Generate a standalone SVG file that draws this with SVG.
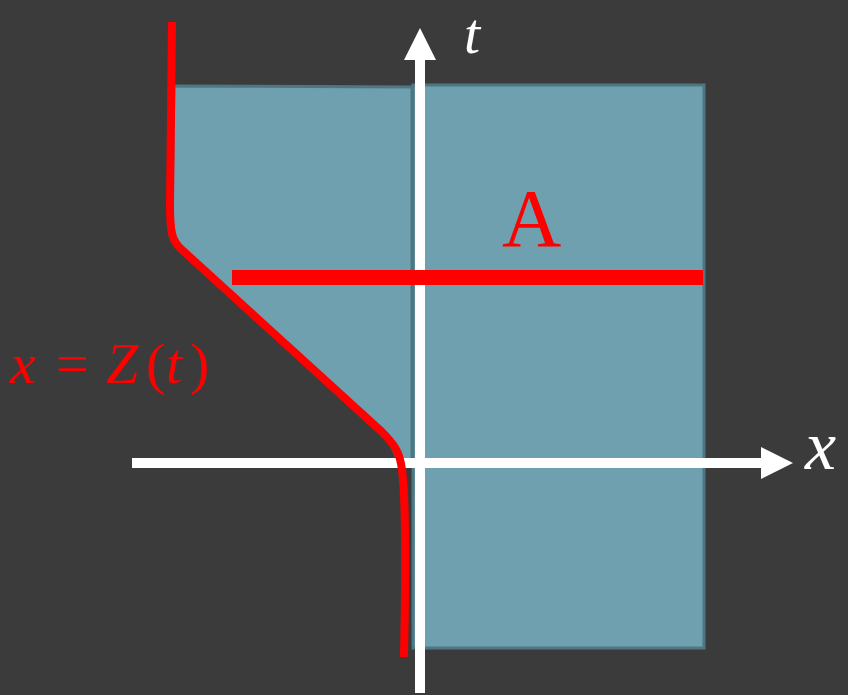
<svg xmlns="http://www.w3.org/2000/svg" width="848" height="695" viewBox="0 0 848 695">
<style>
.region{fill:#6ea0b0;stroke:#4f7783;stroke-width:3}
.axis{stroke:#ffffff;stroke-width:10;fill:none}
.red{stroke:#ff0000;fill:none}
.lbl{font-family:"Liberation Serif",serif;font-style:italic}
</style>
<rect width="848" height="695" fill="#3b3b3b"/>
<g id="region-left">
<path class="region" d="M174,86 L412,87 L412,461 L398,461 C392,446 388,438 380,430 L182,248 C174,240 172,232 172,205 Z"/>
</g>
<g id="region-right">
<rect class="region" x="413" y="85" width="291" height="563"/>
</g>
<g id="connectors">
<line class="axis" x1="420" y1="693" x2="420" y2="58"/>
<polygon points="420,28 404,60 436,60" fill="#ffffff"/>
<line class="axis" x1="132" y1="463" x2="764" y2="463"/>
<polygon points="793,463 761,447 761,479" fill="#ffffff"/>
</g>
<g id="curve">
<path class="red" stroke-width="8" d="M172,22 L170,205 C170,232 172,240 180,248 L382,432 C394,444 400,452 402,470 C406,500 406,560 404,657"/>
</g>
<g id="line-A">
<line class="red" stroke-width="15" x1="232" y1="277.5" x2="703" y2="277.5"/>
</g>
<text class="lbl" x="464" y="53" font-size="58" fill="#ffffff">t</text>
<text class="lbl" x="805" y="469" font-size="70" fill="#ffffff">x</text>
<text x="502" y="246" font-size="82" fill="#ff0000" font-family="Liberation Serif,serif">A</text>
<g fill="#ff0000" font-family="Liberation Serif,serif" font-size="58">
<text class="lbl" x="10" y="383">x</text>
<text x="56" y="383">=</text>
<text class="lbl" x="106" y="383">Z</text>
<text x="146" y="383">(</text>
<text class="lbl" x="166" y="383">t</text>
<text x="190" y="383">)</text>
</g>
</svg>
